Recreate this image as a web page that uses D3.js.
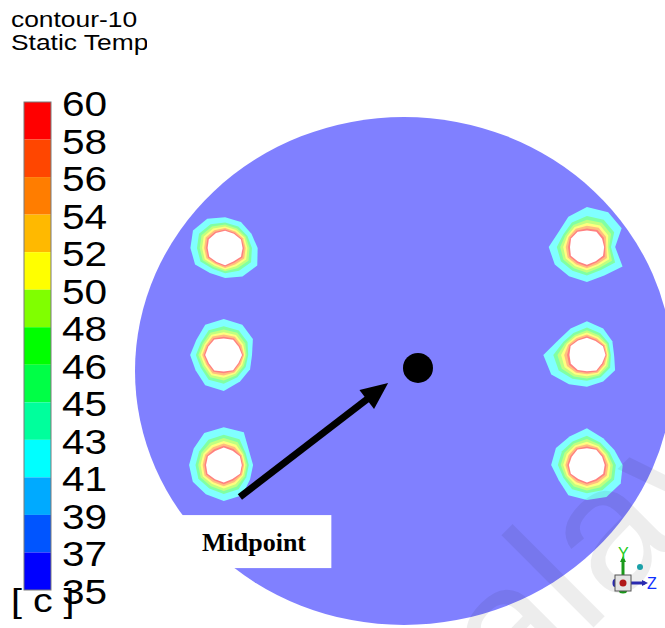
<!DOCTYPE html>
<html>
<head>
<meta charset="utf-8">
<script src="https://cdn.jsdelivr.net/npm/d3@7/dist/d3.min.js"></script>
<style>
  html, body { margin: 0; padding: 0; background: #ffffff; }
  svg { display: block; }
</style>
</head>
<body>
<svg id="chart" width="665" height="628"></svg>
<script>
// ---- Data -------------------------------------------------------------
// Contour levels of the legend (top to bottom), in deg C
const legendLevels = [60, 58, 56, 54, 52, 50, 48, 46, 45, 43, 41, 39, 37, 35];
// Band colours, top band (58-60) first
const bandColors = ["#ff0000", "#ff4600", "#ff7d00", "#ffb900", "#ffff00", "#80ff00",
                    "#00ff00", "#00ff46", "#00ff9c", "#00ffff", "#00aaff", "#0055ff", "#0000ff"];

// Tube (hot spot) centres on the section, mm (section radius = 100 mm)
const spotX = [-66.5, -67.0, -67.0, 68.0, 68.0, 68.0];
const spotY = [48.4, 6.3, -37.0, 48.8, 6.3, -37.0];
// Outer contour (37 C) radius of each spot, mm, sampled every 30 deg clockwise from +x
const spotOuter = [
  [12.1, 13.8, 12.9, 11.8, 11.3, 12.9, 12.9, 13.8, 13.3, 12.1, 11.8, 11.3],
  [10.5, 11.3, 12.1, 14.2, 13.8, 12.1, 12.5, 11.8, 13.8, 14.2, 13.8, 12.5],
  [10.9, 11.3, 13.8, 14.2, 13.3, 13.3, 12.9, 12.9, 14.5, 14.9, 14.9, 10.9],
  [10.5, 15.3, 12.9, 13.8, 13.3, 13.8, 14.2, 12.1, 13.8, 15.8, 15.8, 14.9],
  [10.1, 12.1, 12.1, 12.5, 13.3, 15.3, 16.2, 12.1, 12.1, 13.3, 12.1, 10.9],
  [13.3, 14.5, 14.5, 13.8, 13.8, 12.1, 13.3, 13.3, 12.9, 14.5, 12.1, 11.8]
];
// Tube wall (hole) radius of each spot, mm, same sampling
const spotHole = [
  [6.5, 6.8, 6.1, 6.8, 6.3, 6.8, 6.5, 7.0, 6.8, 6.8, 6.5, 6.8],
  [6.8, 6.3, 6.9, 6.5, 7.0, 6.4, 6.9, 6.6, 7.0, 6.5, 6.9, 6.4],
  [6.7, 7.0, 6.4, 6.9, 6.5, 7.0, 6.6, 6.8, 6.4, 6.9, 6.5, 6.9],
  [6.4, 6.9, 6.5, 7.0, 6.6, 6.9, 6.3, 6.8, 6.9, 6.5, 7.0, 6.5],
  [6.9, 6.5, 7.0, 6.4, 6.8, 6.9, 6.5, 7.0, 6.6, 6.8, 6.4, 6.9],
  [6.6, 7.0, 6.5, 6.9, 6.4, 6.9, 6.7, 6.5, 7.0, 6.6, 6.9, 6.5]
];
// Isotherm rings around each tube: legend band index and relative position
const ringBand = [9, 7, 5, 4, 2, 0];
const ringFraction = [1.0, 0.62, 0.46, 0.32, 0.2, 0.09];

// Probe point and its label
const midpoint = { x: 5.2, y: 1.2, label: "Midpoint" };
const arrowFrom = { x: -61.0, y: -49.6 };
const arrowTo = { x: -5.9, y: -4.7 };
const labelAt = { x: -75.1, y: -70.9 };

// ---- Drawing -----------------------------------------------------------
const svg = d3.select("#chart");
const x = d3.scaleLinear().domain([-100, 100]).range([135, 673]);
const y = d3.scaleLinear().domain([-100, 100]).range([625, 117]);

// Contour rendered translucent over white
const tint = c => d3.interpolateRgb(c, "#ffffff")(0.5);

// Section disk, coloured at the minimum level
svg.append("ellipse")
  .attr("cx", x(0)).attr("cy", y(0))
  .attr("rx", x(100) - x(0)).attr("ry", y(-100) - y(0))
  .attr("fill", tint(bandColors[bandColors.length - 1]));

// Isotherm rings and tube holes
const ringLine = d3.line().curve(d3.curveLinearClosed);
function ringPoints(s, f) {
  return spotOuter[s].map((ro, i) => {
    const rh = spotHole[s][i];
    const r = rh + (ro - rh) * f;
    const a = i * Math.PI / 6;
    return [x(spotX[s] + r * Math.cos(a)), y(spotY[s] - r * Math.sin(a))];
  });
}
const spots = svg.append("g").attr("class", "spots");
spotX.forEach((_, s) => {
  const g = spots.append("g");
  ringFraction.forEach((f, k) => {
    g.append("path")
      .attr("d", ringLine(ringPoints(s, f)))
      .attr("fill", tint(bandColors[ringBand[k]]));
  });
  g.append("path")
    .attr("d", ringLine(ringPoints(s, 0)))
    .attr("fill", "#ffffff");
});

// Faint watermark lettering
svg.append("text")
  .attr("transform", "translate(585,636) rotate(-45)")
  .attr("x", -100)
  .attr("font-family", "'Liberation Sans', Arial, sans-serif")
  .attr("font-size", 180)
  .attr("fill", "#000").attr("fill-opacity", 0.07)
  .text("alav");

// Legend colour bar
const legendY = d3.scalePoint().domain(legendLevels.map(String)).range([102, 590]);
const legend = svg.append("g").attr("class", "legend");
bandColors.forEach((c, i) => {
  const y0 = legendY(String(legendLevels[i]));
  const y1 = legendY(String(legendLevels[i + 1]));
  legend.append("rect")
    .attr("x", 24).attr("y", y0).attr("width", 27).attr("height", y1 - y0)
    .attr("fill", c);
});
legend.append("rect")
  .attr("x", 24).attr("y", 102).attr("width", 27).attr("height", 488)
  .attr("fill", "none").attr("stroke", "#7a7a7a").attr("stroke-width", 1);

const stretch = 1.16;
legendLevels.forEach(v => {
  legend.append("text")
    .attr("transform", `translate(62,${legendY(String(v)) + 14}) scale(${stretch},1)`)
    .attr("font-family", "'Liberation Sans', Arial, sans-serif")
    .attr("font-size", 35)
    .attr("fill", "#000")
    .text(v);
});
legend.append("text")
  .attr("transform", `translate(11,612) scale(${stretch},1)`)
  .attr("font-family", "'Liberation Sans', Arial, sans-serif")
  .attr("font-size", 34)
  .attr("fill", "#000")
  .attr("xml:space", "preserve")
  .text("[ c ]");

// Title block (second line cut by the viewport frame)
svg.append("clipPath").attr("id", "titleClip")
  .append("rect").attr("x", 0).attr("y", 0).attr("width", 147).attr("height", 60);
const title = svg.append("g").attr("clip-path", "url(#titleClip)")
  .attr("font-family", "'Liberation Sans', Arial, sans-serif")
  .attr("font-size", 22).attr("fill", "#000");
title.append("text").attr("transform", `translate(11,27) scale(1.2,1)`).text("contour-10");
title.append("text").attr("transform", `translate(11,50) scale(1.2,1)`).text("Static Temperature");

// Probe point marker
svg.append("circle")
  .attr("cx", x(midpoint.x)).attr("cy", y(midpoint.y)).attr("r", 15)
  .attr("fill", "#000");

// Pointer arrow
const ax0 = x(arrowFrom.x), ay0 = y(arrowFrom.y), ax1 = x(arrowTo.x), ay1 = y(arrowTo.y);
const ang = Math.atan2(ay1 - ay0, ax1 - ax0);
const headLen = 27, headHalf = 12;
const bx = ax1 - headLen * Math.cos(ang), by = ay1 - headLen * Math.sin(ang);
svg.append("line")
  .attr("x1", ax0).attr("y1", ay0).attr("x2", bx + 2 * Math.cos(ang)).attr("y2", by + 2 * Math.sin(ang))
  .attr("stroke", "#000").attr("stroke-width", 7);
svg.append("path")
  .attr("d", d3.line()([
    [ax1, ay1],
    [bx - headHalf * Math.sin(ang), by + headHalf * Math.cos(ang)],
    [bx + headHalf * Math.sin(ang), by - headHalf * Math.cos(ang)]
  ]) + "Z")
  .attr("fill", "#000");

// Label box
const lab = svg.append("g");
const labRect = lab.append("rect").attr("fill", "#ffffff");
const labText = lab.append("text")
  .attr("x", x(labelAt.x)).attr("y", y(labelAt.y))
  .attr("font-family", "'Liberation Serif', 'Times New Roman', serif")
  .attr("font-weight", "bold").attr("font-size", 26).attr("fill", "#000")
  .text(midpoint.label);
const bb = labText.node().getBBox();
labRect.attr("x", bb.x - 24).attr("y", y(labelAt.y) - 36)
  .attr("width", bb.width + 49).attr("height", 53);

// Axis triad
const triad = svg.append("g").attr("transform", "translate(623,583)");
triad.append("line").attr("x1", 0).attr("y1", -8).attr("x2", 0).attr("y2", -24)
  .attr("stroke", "#1a9a1a").attr("stroke-width", 3);
triad.append("path").attr("d", "M0,-27 L-3,-21 L3,-21 Z").attr("fill", "#1a9a1a");
triad.append("text").attr("x", -5).attr("y", -24).attr("font-family", "'Liberation Sans', Arial, sans-serif")
  .attr("font-size", 16).attr("fill", "#22cc22").text("Y");
triad.append("line").attr("x1", 8).attr("y1", 0).attr("x2", 22).attr("y2", 0)
  .attr("stroke", "#2a2ab0").attr("stroke-width", 3);
triad.append("path").attr("d", "M25,0 L19,-3 L19,3 Z").attr("fill", "#2a2ab0");
triad.append("text").attr("x", 24).attr("y", 6).attr("font-family", "'Liberation Sans', Arial, sans-serif")
  .attr("font-size", 16).attr("fill", "#1030ff").text("Z");
triad.append("ellipse").attr("cx", -8).attr("cy", 0).attr("rx", 2.5).attr("ry", 4).attr("fill", "#2a2ab0");
triad.append("ellipse").attr("cx", 0).attr("cy", 8).attr("rx", 4).attr("ry", 2.5).attr("fill", "#1a9a1a");
triad.append("rect").attr("x", -8).attr("y", -8).attr("width", 16).attr("height", 16)
  .attr("fill", "#e4e4e4").attr("stroke", "#555").attr("stroke-width", 1);
triad.append("circle").attr("r", 3.5).attr("fill", "#b01818");
triad.append("circle").attr("cx", 17).attr("cy", -16).attr("r", 3).attr("fill", "#1aa0a8");
</script>
</body>
</html>
